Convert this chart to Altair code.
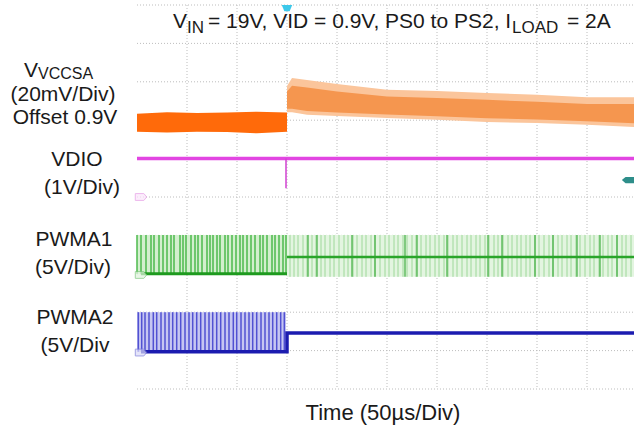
import altair as alt
import pandas as pd

# ---------------- data (time in µs, 50 µs/div; vertical in scope divisions) ----------------
grid_t = [50, 100, 150, 200, 250, 300, 350, 400, 450]
grid_v = [0, 1, 2, 3, 4, 5, 6, 7, 8, 9, 10]
t_end = 497
step_t = 150

# VCCSA (orange) envelope before / after the PS change
vcc_pre_t = [0, 30, 60, 90, 120, 150]
vcc_pre_top = [7.17, 7.21, 7.19, 7.20, 7.22, 7.20]
vcc_pre_bot = [6.70, 6.68, 6.70, 6.69, 6.66, 6.70]

vcc_post_t = [150, 155, 170, 200, 250, 300, 350, 400, 450, 497]
vcc_post_top = [7.89, 8.10, 8.05, 7.94, 7.79, 7.76, 7.71, 7.66, 7.60, 7.60]
vcc_post_bot = [7.21, 7.21, 7.14, 7.11, 7.06, 7.01, 6.95, 6.93, 6.88, 6.82]
vcc_core_top = [7.75, 7.90, 7.85, 7.75, 7.62, 7.58, 7.53, 7.48, 7.42, 7.42]
vcc_core_bot = [7.30, 7.30, 7.24, 7.20, 7.15, 7.10, 7.05, 7.02, 6.97, 6.92]

# VDIO (magenta)
vdio_t = [0, 497]
vdio_v = [6.0, 6.0]
vdio_spike_t = [149]
vdio_spike_low = [5.23]

# PWMA1 (green)
pw1_low_pre, pw1_high = 3.0, 4.01
pw1_level_post, pw1_low_post = 3.44, 2.92
pw1_pre_pulses = [0, 4, 9, 14, 17, 22, 26, 30, 34, 37, 43, 46, 49, 54, 58, 61, 65, 70, 73,
                  76, 80, 83, 88, 91, 95, 99, 103, 106, 110, 114, 118, 123, 126, 130, 135,
                  138, 142, 146, 149]
pw1_post_pulses = [153, 157, 161, 166, 170, 175, 179, 184, 188, 193, 197, 202, 207, 211, 216,
                   220, 225, 229, 234, 238, 243, 248, 252, 257, 261, 266, 270, 275, 279, 284,
                   289, 293, 298, 302, 307, 311, 316, 320, 325, 330, 334, 339, 343, 348, 352,
                   357, 361, 366, 371, 375, 380, 384, 389, 393, 398, 402, 407, 412, 416, 421,
                   425, 430, 434, 439, 443, 448, 453, 457, 462, 466, 471, 475, 480, 485, 489, 494]
pw1_post_dark = [171, 180, 215, 238, 268, 280, 310, 351, 365, 398, 416, 440, 463, 480]

# PWMA2 (blue)
pw2_low_pre, pw2_high, pw2_level_post = 0.97, 2.0, 1.46
pw2_pre_pulses = [1.3, 4.7, 8, 12, 16.3, 19.7, 24, 28, 32, 35.7, 39.7, 43.7, 48, 52, 55.7,
                  59.7, 63.7, 68, 72, 75.7, 79.7, 83.7, 88, 92, 96.3, 99.7, 104, 108, 112,
                  115.7, 119.7, 124, 128, 132, 135.7, 139.7, 143.7, 147.3]

# channel / trigger markers
ch_marker_t = [4, 4, 4]
ch_marker_v = [5.0, 2.97, 0.95]
trig_level_t, trig_level_v = [491], [5.44]
trig_pos_t, trig_pos_v = [150], [9.92]

# ---------------- chart ----------------
XS = alt.Scale(domain=[0, t_end], nice=False, zero=False)
YS = alt.Scale(domain=[0, 10], nice=False, zero=False)


def X(f):
    return alt.X(f, type="quantitative", scale=XS, axis=None)


def Y(f):
    return alt.Y(f, type="quantitative", scale=YS, axis=None)


layers = []

# grid
layers.append(alt.Chart(pd.DataFrame({"t": grid_t})).mark_rule(
    color="#BDBDBD", strokeWidth=1, strokeDash=[1, 2]).encode(
    x=X("t"), y=alt.value(0), y2=alt.value(384)))
layers.append(alt.Chart(pd.DataFrame({"v": grid_v})).mark_rule(
    color="#BDBDBD", strokeWidth=1, strokeDash=[1, 2]).encode(
    y=Y("v"), x=alt.value(0), x2=alt.value(497)))

# VCCSA
layers.append(alt.Chart(pd.DataFrame({"t": vcc_post_t, "a": vcc_post_top, "b": vcc_post_bot}))
              .mark_area(color="#FBC59B").encode(x=X("t"), y=Y("a"), y2="b"))
layers.append(alt.Chart(pd.DataFrame({"t": vcc_post_t, "a": vcc_core_top, "b": vcc_core_bot}))
              .mark_area(color="#F5964F").encode(x=X("t"), y=Y("a"), y2="b"))
layers.append(alt.Chart(pd.DataFrame({"t": vcc_pre_t, "a": vcc_pre_top, "b": vcc_pre_bot}))
              .mark_area(color="#FF6A0A").encode(x=X("t"), y=Y("a"), y2="b"))

# VDIO
layers.append(alt.Chart(pd.DataFrame({"t": vdio_t, "v": vdio_v}))
              .mark_line(color="#E246E2", strokeWidth=3.5).encode(x=X("t"), y=Y("v")))
layers.append(alt.Chart(pd.DataFrame({"t": vdio_spike_t, "a": vdio_v[:1], "b": vdio_spike_low}))
              .mark_rule(color="#D040D0", strokeWidth=1.5).encode(x=X("t"), y=Y("a"), y2="b"))

# PWMA1
layers.append(alt.Chart(pd.DataFrame({"t": [0, step_t], "a": [pw1_high] * 2, "b": [pw1_low_pre] * 2}))
              .mark_area(color="#D3EFCE").encode(x=X("t"), y=Y("a"), y2="b"))
layers.append(alt.Chart(pd.DataFrame({"t": [step_t, t_end], "a": [pw1_high] * 2, "b": [pw1_low_post] * 2}))
              .mark_area(color="#E3F5E0").encode(x=X("t"), y=Y("a"), y2="b"))
layers.append(alt.Chart(pd.DataFrame({"t": pw1_post_pulses}))
              .mark_rule(color="#9ED89A", strokeWidth=1).encode(
    x=X("t"), y=Y("a"), y2="b").transform_calculate(a=str(pw1_high), b=str(pw1_low_post)))
layers.append(alt.Chart(pd.DataFrame({"t": pw1_post_dark}))
              .mark_rule(color="#3FAE3F", strokeWidth=1.2).encode(
    x=X("t"), y=Y("a"), y2="b").transform_calculate(a=str(pw1_high), b=str(pw1_low_post)))
layers.append(alt.Chart(pd.DataFrame({"t": pw1_pre_pulses}))
              .mark_rule(color="#4DBA4D", strokeWidth=1.5).encode(
    x=X("t"), y=Y("a"), y2="b").transform_calculate(a=str(pw1_high), b=str(pw1_low_pre)))
layers.append(alt.Chart(pd.DataFrame({"t": [4, step_t], "v": [pw1_low_pre] * 2}))
              .mark_line(color="#1E9A1E", strokeWidth=3).encode(x=X("t"), y=Y("v")))
layers.append(alt.Chart(pd.DataFrame({"t": [step_t, t_end], "v": [pw1_level_post] * 2}))
              .mark_line(color="#2AA52A", strokeWidth=2.5).encode(x=X("t"), y=Y("v")))

# PWMA2
layers.append(alt.Chart(pd.DataFrame({"t": [0, step_t - 1], "a": [pw2_high] * 2, "b": [pw2_low_pre] * 2}))
              .mark_area(color="#C6C6F2").encode(x=X("t"), y=Y("a"), y2="b"))
layers.append(alt.Chart(pd.DataFrame({"t": pw2_pre_pulses}))
              .mark_rule(color="#5151D2", strokeWidth=1.5).encode(
    x=X("t"), y=Y("a"), y2="b").transform_calculate(a=str(pw2_high), b=str(pw2_low_pre)))
layers.append(alt.Chart(pd.DataFrame({"t": [4, step_t, step_t, step_t + 3, t_end],
                                      "v": [pw2_low_pre, pw2_low_pre, pw2_level_post,
                                            pw2_level_post, pw2_level_post]}))
              .mark_line(color="#1C1CB0", strokeWidth=3.5).encode(x=X("t"), y=Y("v"), order="t:O"))

# markers
tag = "M-1,-0.6L0.5,-0.6L1,0L0.5,0.6L-1,0.6Z"
ch_df = pd.DataFrame({"t": ch_marker_t, "v": ch_marker_v, "c": ["p", "g", "b"]})
layers.append(alt.Chart(ch_df).mark_point(shape=tag, size=130, filled=True, strokeWidth=1).encode(
    x=X("t"), y=Y("v"),
    fill=alt.Fill("c:N", scale=alt.Scale(domain=["p", "g", "b"], range=["#FBE6FB", "#E0F3DD", "#DADAF7"]), legend=None),
    stroke=alt.Stroke("c:N", scale=alt.Scale(domain=["p", "g", "b"], range=["#E59AE5", "#7CC77C", "#7A7AD8"]), legend=None)))
layers.append(alt.Chart(pd.DataFrame({"t": trig_level_t, "v": trig_level_v}))
              .mark_point(shape="M-1,0L-0.4,-0.5L1,-0.5L1,0.5L-0.4,0.5Z", size=150, filled=True,
                          color="#2E8E8A", opacity=1).encode(x=X("t"), y=Y("v")))
layers.append(alt.Chart(pd.DataFrame({"t": trig_pos_t, "v": trig_pos_v}))
              .mark_point(shape="M-1,-0.6L1,-0.6L0.5,0.6L-0.5,0.6Z", size=110, filled=True,
                          color="#3CC8EA", opacity=1).encode(x=X("t"), y=Y("v")))

# ---------------- text (pixel positions relative to plot origin) ----------------
dummy = pd.DataFrame({"a": [0]})
FONT = "Liberation Sans"


def label(text, x, y, size=21, align="center", baseline="middle"):
    return alt.Chart(dummy).mark_text(text=text, x=x, y=y, fontSize=size, font=FONT,
                                      align=align, baseline=baseline, color="#1A1A1A")


texts = [
    label("V", -113, 72, 21, "left", "alphabetic"),
    label("VCCSA", -99, 74, 16, "left", "alphabetic"),
    label("(20mV/Div)", -74, 90),
    label("Offset 0.9V", -72, 113),
    label("VDIO", -60, 155),
    label("(1V/Div)", -55, 183),
    label("PWMA1", -63, 235),
    label("(5V/Div)", -64, 263),
    label("PWMA2", -62, 313),
    label("(5V/Div", -62, 341),
    label("V", 36, 23, 21, "left", "alphabetic"),
    label("IN", 50, 28, 17, "left", "alphabetic"),
    label("= 19V, VID = 0.9V, PS0 to PS2, I", 71, 23, 21, "left", "alphabetic"),
    label("LOAD", 375, 28, 17, "left", "alphabetic"),
    label("= 2A", 430, 23, 21, "left", "alphabetic"),
    label("Time (50µs/Div)", 246, 408, 22),
]

chart = alt.layer(*layers, *texts).properties(
    width=497, height=384,
    autosize=alt.AutoSizeParams(type="none"),
    padding={"left": 137, "top": 5, "right": 0, "bottom": 44},
    background="white",
).configure_view(stroke=None)

chart.save("out.html", embed_options={"renderer": "svg", "actions": False})
